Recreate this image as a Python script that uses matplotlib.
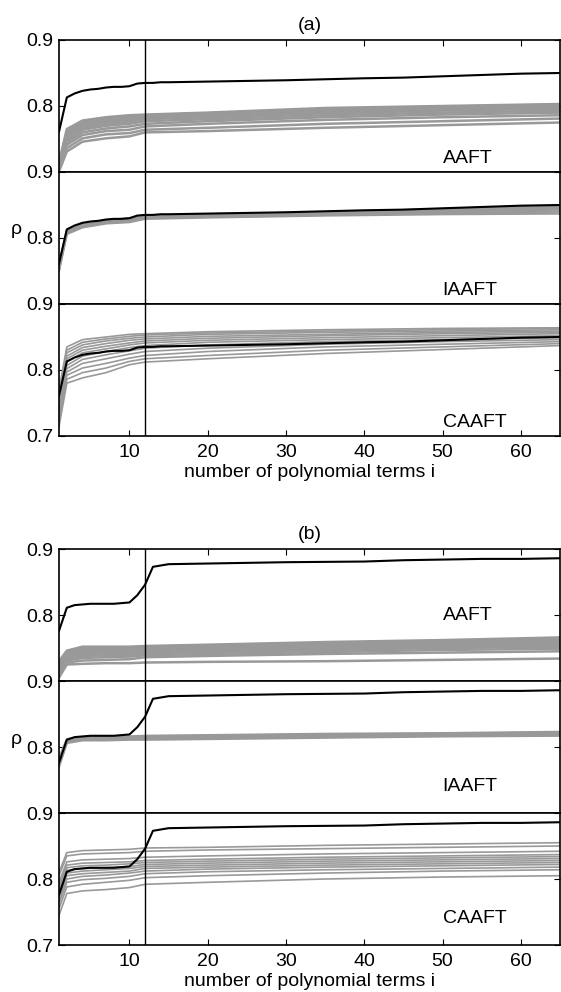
import numpy as np
import matplotlib.pyplot as plt

plt.rcParams['font.family'] = ['Liberation Sans', 'DejaVu Sans']
plt.rcParams['font.size'] = 14

# x positions (number of polynomial terms)
x_black = [1, 2, 3, 4, 5, 6, 7, 8, 9, 10, 11, 12, 13, 14, 15, 20, 30, 40, 45, 50, 55, 60, 65]
x_surr = [1, 2, 4, 7, 10, 12, 20, 35, 50, 65]

# original data, panel (a) and (b)
rho_a = [0.761, 0.813, 0.819, 0.823, 0.825, 0.826, 0.828, 0.829, 0.829, 0.830, 0.834, 0.835,
         0.835, 0.836, 0.836, 0.837, 0.839, 0.842, 0.843, 0.845, 0.847, 0.849, 0.850]
rho_b = [0.776, 0.811, 0.815, 0.816, 0.817, 0.817, 0.817, 0.817, 0.818, 0.819, 0.830, 0.846,
         0.873, 0.875, 0.877, 0.878, 0.880, 0.881, 0.883, 0.884, 0.885, 0.885, 0.886]

# surrogates (a)
aaft_a = [
    [0.715, 0.765, 0.778, 0.783, 0.786, 0.787, 0.790, 0.797, 0.800, 0.803],
    [0.713, 0.761, 0.775, 0.781, 0.784, 0.786, 0.789, 0.795, 0.799, 0.802],
    [0.712, 0.758, 0.772, 0.778, 0.781, 0.784, 0.787, 0.793, 0.797, 0.800],
    [0.710, 0.755, 0.770, 0.776, 0.779, 0.782, 0.785, 0.791, 0.795, 0.798],
    [0.709, 0.752, 0.767, 0.773, 0.776, 0.780, 0.783, 0.789, 0.793, 0.796],
    [0.708, 0.748, 0.764, 0.770, 0.773, 0.777, 0.780, 0.786, 0.790, 0.793],
    [0.706, 0.745, 0.760, 0.766, 0.769, 0.773, 0.777, 0.783, 0.787, 0.790],
    [0.705, 0.741, 0.756, 0.762, 0.764, 0.769, 0.773, 0.779, 0.783, 0.786],
    [0.703, 0.736, 0.751, 0.757, 0.759, 0.764, 0.767, 0.773, 0.777, 0.781],
    [0.701, 0.731, 0.746, 0.751, 0.754, 0.760, 0.762, 0.767, 0.771, 0.775],
]
iaaft_a = [
    [0.760, 0.812, 0.822, 0.827, 0.830, 0.834, 0.836, 0.839, 0.844, 0.849],
    [0.758, 0.810, 0.820, 0.826, 0.828, 0.833, 0.835, 0.838, 0.843, 0.847],
    [0.756, 0.809, 0.819, 0.825, 0.827, 0.832, 0.834, 0.837, 0.842, 0.845],
    [0.754, 0.808, 0.818, 0.824, 0.826, 0.831, 0.833, 0.836, 0.840, 0.843],
    [0.752, 0.807, 0.817, 0.823, 0.825, 0.830, 0.832, 0.835, 0.838, 0.840],
    [0.750, 0.806, 0.816, 0.822, 0.824, 0.829, 0.831, 0.834, 0.836, 0.837],
]
caaft_a = [
    [0.770, 0.835, 0.846, 0.850, 0.854, 0.855, 0.858, 0.861, 0.863, 0.864],
    [0.765, 0.830, 0.842, 0.847, 0.851, 0.853, 0.856, 0.859, 0.861, 0.863],
    [0.760, 0.826, 0.838, 0.844, 0.848, 0.850, 0.854, 0.857, 0.859, 0.861],
    [0.755, 0.821, 0.834, 0.840, 0.845, 0.847, 0.851, 0.854, 0.857, 0.859],
    [0.751, 0.817, 0.830, 0.836, 0.841, 0.844, 0.848, 0.852, 0.855, 0.857],
    [0.747, 0.812, 0.826, 0.832, 0.838, 0.841, 0.845, 0.849, 0.852, 0.855],
    [0.742, 0.807, 0.821, 0.828, 0.834, 0.837, 0.842, 0.846, 0.849, 0.852],
    [0.737, 0.802, 0.816, 0.823, 0.829, 0.833, 0.838, 0.843, 0.846, 0.849],
    [0.732, 0.797, 0.810, 0.817, 0.824, 0.828, 0.833, 0.839, 0.843, 0.846],
    [0.727, 0.792, 0.803, 0.810, 0.818, 0.822, 0.828, 0.835, 0.839, 0.843],
    [0.720, 0.786, 0.796, 0.803, 0.813, 0.817, 0.822, 0.830, 0.835, 0.840],
    [0.714, 0.780, 0.788, 0.796, 0.808, 0.812, 0.817, 0.825, 0.831, 0.837],
]

# surrogates (b)
aaft_b = [
    [0.730, 0.746, 0.752, 0.752, 0.752, 0.753, 0.755, 0.759, 0.762, 0.766],
    [0.727, 0.744, 0.750, 0.750, 0.751, 0.752, 0.754, 0.757, 0.760, 0.763],
    [0.724, 0.742, 0.748, 0.748, 0.749, 0.750, 0.752, 0.755, 0.758, 0.761],
    [0.721, 0.740, 0.746, 0.746, 0.747, 0.748, 0.750, 0.753, 0.756, 0.759],
    [0.719, 0.738, 0.744, 0.744, 0.745, 0.746, 0.748, 0.751, 0.754, 0.757],
    [0.716, 0.736, 0.741, 0.742, 0.742, 0.744, 0.746, 0.749, 0.752, 0.755],
    [0.713, 0.733, 0.738, 0.739, 0.740, 0.742, 0.744, 0.747, 0.750, 0.752],
    [0.711, 0.731, 0.735, 0.736, 0.737, 0.739, 0.741, 0.744, 0.747, 0.749],
    [0.708, 0.728, 0.731, 0.732, 0.733, 0.736, 0.738, 0.741, 0.743, 0.745],
    [0.705, 0.725, 0.726, 0.727, 0.727, 0.728, 0.729, 0.730, 0.732, 0.734],
]
iaaft_b = [
    [0.783, 0.812, 0.815, 0.816, 0.816, 0.817, 0.818, 0.820, 0.821, 0.823],
    [0.779, 0.810, 0.814, 0.814, 0.815, 0.816, 0.817, 0.819, 0.820, 0.822],
    [0.776, 0.809, 0.812, 0.813, 0.814, 0.814, 0.815, 0.817, 0.819, 0.820],
    [0.773, 0.807, 0.811, 0.812, 0.812, 0.813, 0.814, 0.816, 0.818, 0.819],
    [0.770, 0.806, 0.810, 0.810, 0.811, 0.811, 0.812, 0.814, 0.816, 0.817],
]
caaft_b = [
    [0.810, 0.840, 0.843, 0.844, 0.845, 0.847, 0.848, 0.851, 0.853, 0.855],
    [0.805, 0.835, 0.838, 0.839, 0.840, 0.842, 0.844, 0.846, 0.848, 0.850],
    [0.795, 0.826, 0.829, 0.830, 0.831, 0.833, 0.835, 0.838, 0.840, 0.842],
    [0.790, 0.821, 0.824, 0.825, 0.826, 0.828, 0.830, 0.833, 0.835, 0.837],
    [0.786, 0.817, 0.820, 0.821, 0.823, 0.825, 0.827, 0.830, 0.832, 0.834],
    [0.782, 0.813, 0.816, 0.817, 0.819, 0.822, 0.824, 0.827, 0.829, 0.831],
    [0.778, 0.809, 0.812, 0.814, 0.816, 0.819, 0.821, 0.824, 0.826, 0.828],
    [0.773, 0.805, 0.808, 0.810, 0.812, 0.816, 0.818, 0.821, 0.823, 0.825],
    [0.768, 0.800, 0.804, 0.806, 0.809, 0.812, 0.815, 0.818, 0.820, 0.822],
    [0.762, 0.795, 0.799, 0.801, 0.804, 0.808, 0.811, 0.814, 0.816, 0.818],
    [0.755, 0.788, 0.792, 0.795, 0.798, 0.802, 0.805, 0.809, 0.812, 0.814],
    [0.745, 0.778, 0.782, 0.784, 0.787, 0.792, 0.795, 0.800, 0.803, 0.805],
]

names = ['AAFT', 'IAAFT', 'CAAFT']
label_y_a = [0.721, 0.721, 0.721]
label_y_b = [0.800, 0.740, 0.740]
surr_lw = [1.8, 1.6, 1.2]
i_cut = 12

W, H = 561, 992
fig = plt.figure(figsize=(W / 100, H / 100), dpi=100)
GRAY = '#999999'


def draw_panel(top_px, title, rho, surr, label_y):
    sub_h = 132
    axes = []
    for k in range(3):
        ax = fig.add_axes([59 / W, 1 - (top_px + (k + 1) * sub_h) / H, 501 / W, sub_h / H])
        for s in surr[k]:
            ax.plot(x_surr, s, color=GRAY, lw=surr_lw[k])
        ax.plot(x_black, rho, color='k', lw=1.5)
        ax.axvline(i_cut, color='k', lw=1.0)
        ax.text(50, label_y[k], names[k], ha='left', va='center')
        ax.set_xlim(1, 65)
        ax.set_ylim(0.7, 0.9)
        if k < 2:
            ax.set_yticks([0.8, 0.9])
            ax.set_yticklabels(['0.8', '0.9'])
        else:
            ax.set_yticks([0.7, 0.8, 0.9])
            ax.set_yticklabels(['0.7', '0.8', '0.9'])
        ax.set_xticks([10, 20, 30, 40, 50, 60])
        ax.tick_params(direction='in', length=4, width=0.8, right=True,
                       top=(k == 0), bottom=(k == 2), labelbottom=(k == 2), pad=4)
        ax.tick_params(axis='x', pad=6)
        for sp in ax.spines.values():
            sp.set_linewidth(1.2)
        axes.append(ax)
    axes[0].set_title(title, fontsize=14, pad=7)
    axes[2].set_xlabel('number of polynomial terms i', labelpad=2)
    # rho label left of the middle 0.8 tick
    fig.text(11 / W, 1 - (top_px + sub_h + 58) / H, 'ρ', ha='left', va='center', fontsize=14)
    return axes


draw_panel(40, '(a)', rho_a, [aaft_a, iaaft_a, caaft_a], label_y_a)
draw_panel(549, '(b)', rho_b, [aaft_b, iaaft_b, caaft_b], label_y_b)

plt.savefig('out.png', dpi=100)
